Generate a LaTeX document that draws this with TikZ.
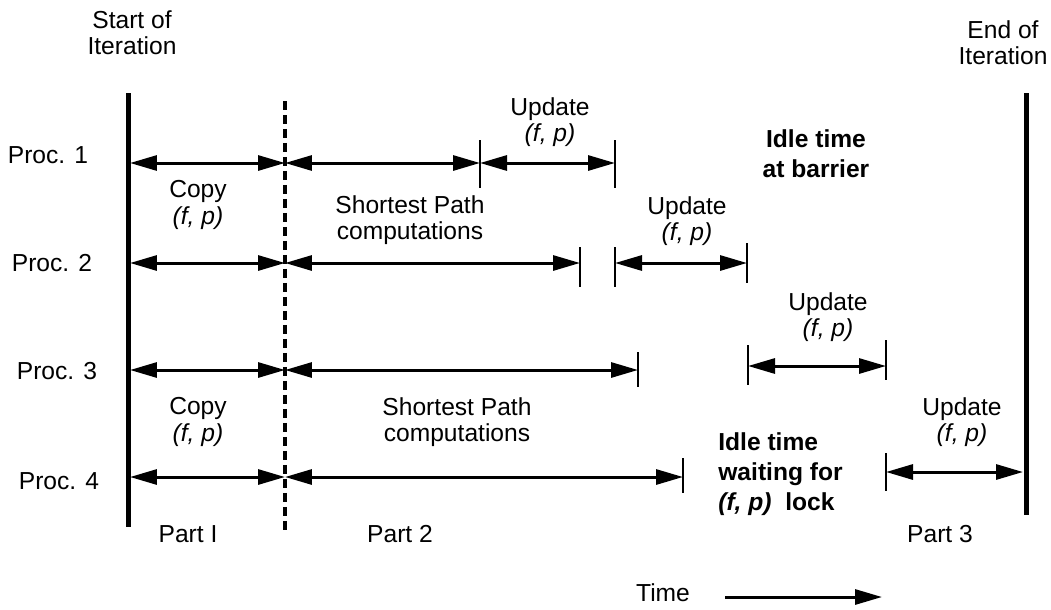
\documentclass[tikz,border=0pt]{standalone}
\usepackage{fontspec}
\setmainfont{Liberation Sans}
\usepackage{tikz}
\usetikzlibrary{arrows.meta, positioning}

\begin{document}
\begin{tikzpicture}[x=0.02cm, y=-0.02cm, >={Triangle[length=0.54cm, width=0.3cm]}, font=\fontsize{14}{15}\selectfont]
		\tikzstyle{bar} = [line width=0.1cm]
		\tikzstyle{part} = [line width=0.09cm, dash pattern=on 0.18cm off 0.1cm]
		\tikzstyle{span} = [line width=0.06cm, <->]
		\tikzstyle{arrow} = [line width=0.06cm, ->]
		\tikzstyle{tick} = [line width=0.05cm]
		\tikzstyle{lbl} = [inner sep=0pt, align=center]
		\tikzstyle{idle} = [inner sep=0pt, font=\fontsize{14}{17}\selectfont\bfseries]
		
		\useasboundingbox (0,0) rectangle (1051,609);
		
		% start, end and part border
		\coordinate (lt) at (128,93);
		\coordinate (lb) at (128,527);
		\coordinate (rt) at (1026,93);
		\coordinate (rb) at (1026,515);
		\coordinate (dt) at (285,101);
		\coordinate (db) at (285,533);
		\draw[bar] (lt) -- (lb);
		\draw[bar] (rt) -- (rb);
		\draw[part] (dt) -- (db);
		
		% rows
		\coordinate (s1) at (130,163);
		\coordinate (c1) at (285,163);
		\coordinate (p1) at (480,163);
		\coordinate (u1) at (615,163);
		
		\coordinate (s2) at (130,263);
		\coordinate (c2) at (285,263);
		\coordinate (p2) at (580,263);
		\coordinate (w2) at (615,263);
		\coordinate (u2) at (747,263);
		
		\coordinate (s3) at (130,370);
		\coordinate (c3) at (285,370);
		\coordinate (p3) at (638,370);
		\coordinate (w3) at (748,366);
		\coordinate (u3) at (886,366);
		
		\coordinate (s4) at (130,477);
		\coordinate (c4) at (285,477);
		\coordinate (p4) at (683,477);
		\coordinate (w4) at (886,472);
		\coordinate (u4) at (1023,472);
		
		\foreach \r in {1,...,4} {
			\draw[span] (s\r) -- (c\r);
			\draw[span] (c\r) -- (p\r);
		}
		\draw[span] (p1) -- (u1);
		\draw[span] (w2) -- (u2);
		\draw[span] (w3) -- (u3);
		\draw[span] (w4) -- (u4);
		
		% ticks: coordinate / above / below
		\foreach \c/\a/\b in {p1/23/25, u1/23/25, p2/16/24, w2/16/24, u2/20/20,
			p3/18/17, w3/21/19, u3/26/14, p4/19/16, w4/19/19} {
			\draw[tick] (\c) ++(0,-\a) -- ++(0,{\a+\b});
		}
		
		% labels
		\node[lbl] (start) at (132,33) {Start of\\Iteration};
		\node[lbl] (endit) at (1003,43) {End of\\Iteration};
		
		\node[lbl] (proc1) at (48,155) {Proc. 1};
		\node[lbl] (proc2) at (52,263) {Proc. 2};
		\node[lbl] (proc3) at (57,371) {Proc. 3};
		\node[lbl] (proc4) at (59,481) {Proc. 4};
		
		\node[lbl] (copy1) at (198,205) {Copy\\\textit{(f, p)}};
		\node[lbl] (copy2) at (198,422) {Copy\\\textit{(f, p)}};
		\node[lbl] (sp1) at (410,220) {Shortest Path\\computations};
		\node[lbl] (sp2) at (457,422) {Shortest Path\\computations};
		
		\node[lbl] (upd1) at (550,122) {Update\\\textit{(f, p)}};
		\node[lbl] (upd2) at (687,221) {Update\\\textit{(f, p)}};
		\node[lbl] (upd3) at (828,317) {Update\\\textit{(f, p)}};
		\node[lbl] (upd4) at (962,422) {Update\\\textit{(f, p)}};
		
		\node[idle, align=center] (barrier) at (816,154) {Idle time\\at barrier};
		\node[idle, align=left, anchor=west] (lock) at (718,474) {Idle time\\waiting for\\\textit{(f, p)}~ lock};
		
		\node[lbl] (part1) at (188,534) {Part I};
		\node[lbl] (part2) at (400,534) {Part 2};
		\node[lbl] (part3) at (940,534) {Part 3};
		
		\node[lbl] (time) at (663,593) {Time};
		\coordinate (t0) at (725,597);
		\coordinate (t1) at (882,597);
		\draw[arrow] (t0) -- (t1);
	\end{tikzpicture}
\end{document}
